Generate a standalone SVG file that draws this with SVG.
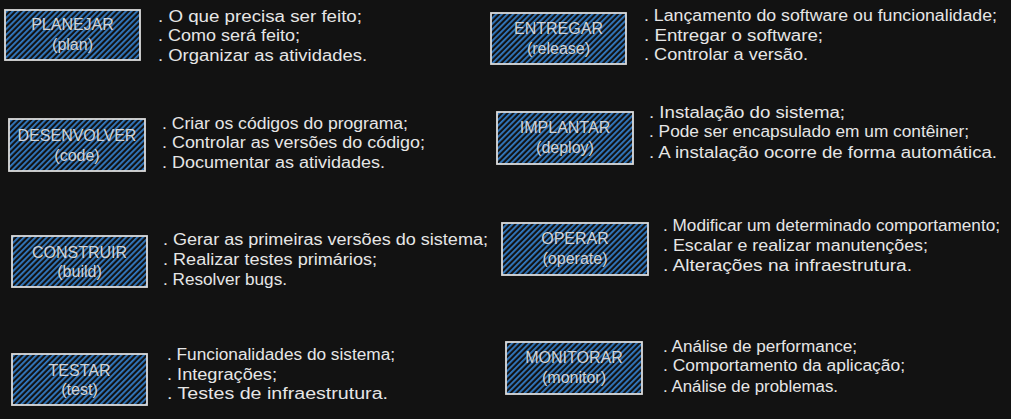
<svg xmlns="http://www.w3.org/2000/svg" width="1011" height="419" viewBox="0 0 1011 419">
<defs>
<pattern id="hatch" width="4" height="10" patternUnits="userSpaceOnUse" patternTransform="rotate(45)">
<rect x="0" y="0" width="1.8" height="10" fill="#337cc6"/>
</pattern>
<style>
.box{fill:url(#hatch);stroke:#dcdcdc;stroke-width:1.8}
.lbl{font-family:"Liberation Sans",Arial,sans-serif;font-size:16px;fill:#d4d4d4;text-anchor:middle;dominant-baseline:central}
.txt{font-family:"Liberation Sans",Arial,sans-serif;font-size:16px;fill:#e6e6e6;dominant-baseline:central}
</style>
</defs>
<rect width="1011" height="419" fill="#121212"/>
<g id="connectors"></g>

<g id="planejar">
<rect class="box" x="5" y="10" width="135" height="50"/>
<text class="lbl" x="72.5" y="24">PLANEJAR</text>
<text class="lbl" x="72.5" y="44">(plan)</text>
<text class="txt" x="158" y="16" textLength="204" lengthAdjust="spacingAndGlyphs">. O que precisa ser feito;</text>
<text class="txt" x="158" y="35" textLength="142" lengthAdjust="spacingAndGlyphs">. Como será feito;</text>
<text class="txt" x="158" y="55" textLength="209" lengthAdjust="spacingAndGlyphs">. Organizar as atividades.</text>
</g>

<g id="desenvolver">
<rect class="box" x="9" y="119" width="136" height="52"/>
<text class="lbl" x="77" y="135">DESENVOLVER</text>
<text class="lbl" x="77" y="155">(code)</text>
<text class="txt" x="162" y="123" textLength="246" lengthAdjust="spacingAndGlyphs">. Criar os códigos do programa;</text>
<text class="txt" x="162" y="142" textLength="263" lengthAdjust="spacingAndGlyphs">. Controlar as versões do código;</text>
<text class="txt" x="162" y="162" textLength="223" lengthAdjust="spacingAndGlyphs">. Documentar as atividades.</text>
</g>

<g id="construir">
<rect class="box" x="12" y="236" width="135" height="51"/>
<text class="lbl" x="79.5" y="252">CONSTRUIR</text>
<text class="lbl" x="79.5" y="271">(build)</text>
<text class="txt" x="163" y="239" textLength="325" lengthAdjust="spacingAndGlyphs">. Gerar as primeiras versões do sistema;</text>
<text class="txt" x="163" y="259" textLength="214" lengthAdjust="spacingAndGlyphs">. Realizar testes primários;</text>
<text class="txt" x="163" y="279" textLength="124" lengthAdjust="spacingAndGlyphs">. Resolver bugs.</text>
</g>

<g id="testar">
<rect class="box" x="12" y="354" width="135" height="51"/>
<text class="lbl" x="79.5" y="370">TESTAR</text>
<text class="lbl" x="79.5" y="389">(test)</text>
<text class="txt" x="167" y="354" textLength="228" lengthAdjust="spacingAndGlyphs">. Funcionalidades do sistema;</text>
<text class="txt" x="167" y="374" textLength="110" lengthAdjust="spacingAndGlyphs">. Integrações;</text>
<text class="txt" x="167" y="393" textLength="221" lengthAdjust="spacingAndGlyphs">. Testes de infraestrutura.</text>
</g>

<g id="entregar">
<rect class="box" x="491" y="13" width="135" height="51"/>
<text class="lbl" x="558.5" y="28">ENTREGAR</text>
<text class="lbl" x="558.5" y="48">(release)</text>
<text class="txt" x="644" y="15" textLength="353" lengthAdjust="spacingAndGlyphs">. Lançamento do software ou funcionalidade;</text>
<text class="txt" x="644" y="35" textLength="179" lengthAdjust="spacingAndGlyphs">. Entregar o software;</text>
<text class="txt" x="644" y="54" textLength="164" lengthAdjust="spacingAndGlyphs">. Controlar a versão.</text>
</g>

<g id="implantar">
<rect class="box" x="497" y="112" width="136" height="52"/>
<text class="lbl" x="565" y="127">IMPLANTAR</text>
<text class="lbl" x="565" y="147">(deploy)</text>
<text class="txt" x="649" y="112" textLength="196" lengthAdjust="spacingAndGlyphs">. Instalação do sistema;</text>
<text class="txt" x="649" y="131" textLength="320" lengthAdjust="spacingAndGlyphs">. Pode ser encapsulado em um contêiner;</text>
<text class="txt" x="649" y="152" textLength="348" lengthAdjust="spacingAndGlyphs">. A instalação ocorre de forma automática.</text>
</g>

<g id="operar">
<rect class="box" x="502" y="223" width="146" height="52"/>
<text class="lbl" x="575" y="238">OPERAR</text>
<text class="lbl" x="575" y="258">(operate)</text>
<text class="txt" x="663" y="225" textLength="337" lengthAdjust="spacingAndGlyphs">. Modificar um determinado comportamento;</text>
<text class="txt" x="663" y="245" textLength="265" lengthAdjust="spacingAndGlyphs">. Escalar e realizar manutenções;</text>
<text class="txt" x="663" y="265" textLength="249" lengthAdjust="spacingAndGlyphs">. Alterações na infraestrutura.</text>
</g>

<g id="monitorar">
<rect class="box" x="506" y="342" width="136" height="52"/>
<text class="lbl" x="574" y="357">MONITORAR</text>
<text class="lbl" x="574" y="377">(monitor)</text>
<text class="txt" x="663" y="346" textLength="194" lengthAdjust="spacingAndGlyphs">. Análise de performance;</text>
<text class="txt" x="663" y="365" textLength="242" lengthAdjust="spacingAndGlyphs">. Comportamento da aplicação;</text>
<text class="txt" x="663" y="386" textLength="175" lengthAdjust="spacingAndGlyphs">. Análise de problemas.</text>
</g>
</svg>
